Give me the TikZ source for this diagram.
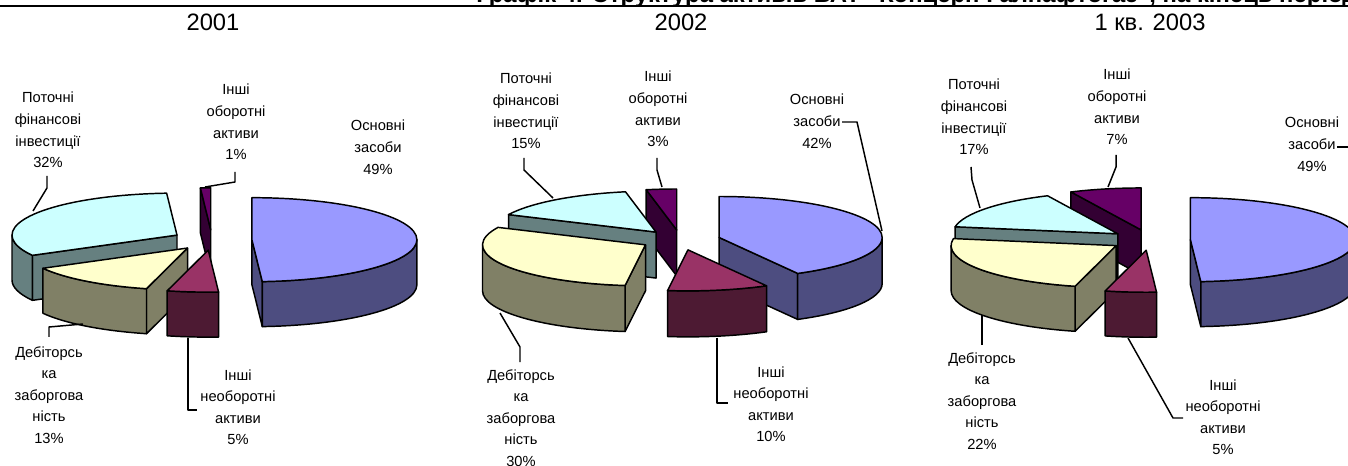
\documentclass[tikz,border=0pt]{standalone}
\usepackage{fontspec}
\setmainfont{Liberation Sans}
\definecolor{blueT}{HTML}{9999FF}
\definecolor{blueS}{HTML}{4D4D80}
\definecolor{magT}{HTML}{993366}
\definecolor{magS}{HTML}{4D1A33}
\definecolor{yelT}{HTML}{FFFFCC}
\definecolor{yelS}{HTML}{808066}
\definecolor{cyaT}{HTML}{CCFFFF}
\definecolor{cyaS}{HTML}{668080}
\definecolor{purT}{HTML}{660066}
\definecolor{purS}{HTML}{330033}
\tikzset{
  pieline/.style={draw=black, line width=1.1pt, line join=round},
  lbl/.style={anchor=north, inner sep=0pt, align=center, font=\fontsize{11}{16.2}\selectfont},
  yr/.style={inner sep=0pt, font=\fontsize{17.8}{20}\selectfont},
  leader/.style={draw=black, line width=1.1pt, line join=round},
}
\newcommand\Fs{\rule{0pt}{8.8pt}}
% #1 cx, #2 cy, #3 explode, #4 a1, #5 a2, #6 top colour, #7 side colour
\newcommand\PieSlice[7]{%
  \pgfmathsetmacro\pMid{(#4+#5)/2}%
  \pgfmathsetmacro\pCx{#1+#3*\PA*cos(\pMid)}%
  \pgfmathsetmacro\pCy{#2+#3*\PB*sin(\pMid)}%
  \pgfmathsetmacro\pXa{\pCx+\PA*cos(#4)}%
  \pgfmathsetmacro\pYa{\pCy+\PB*sin(#4)}%
  \pgfmathsetmacro\pXb{\pCx+\PA*cos(#5)}%
  \pgfmathsetmacro\pYb{\pCy+\PB*sin(#5)}%
  \pgfmathtruncatemacro\pVs{cos(#4)<-0.001}%
  \pgfmathtruncatemacro\pVe{cos(#5)>0.001}%
  \ifnum\pVs=1
    \path[pieline,fill=#7] (\pCx,\pCy) -- (\pXa,\pYa) -- (\pXa,\pYa+\PH) -- (\pCx,\pCy+\PH) -- cycle;
  \fi
  \ifnum\pVe=1
    \path[pieline,fill=#7] (\pCx,\pCy) -- (\pXb,\pYb) -- (\pXb,\pYb+\PH) -- (\pCx,\pCy+\PH) -- cycle;
  \fi
  \pgfmathsetmacro\pSs{max(#4,360)}%
  \pgfmathsetmacro\pSe{min(#5,540)}%
  \pgfmathtruncatemacro\pVo{\pSe>\pSs+0.01}%
  \ifnum\pVo=1
    \pgfmathsetmacro\pXs{\pCx+\PA*cos(\pSs)}%
    \pgfmathsetmacro\pYs{\pCy+\PB*sin(\pSs)}%
    \path[pieline,fill=#7] (\pXs,\pYs) arc[start angle=\pSs,end angle=\pSe,x radius=\PA,y radius=\PB] -- ++(0,\PH) arc[start angle=\pSe,end angle=\pSs,x radius=\PA,y radius=\PB] -- cycle;
  \fi
  \path[pieline,fill=#6] (\pCx,\pCy) -- (\pXa,\pYa) arc[start angle=#4,end angle=#5,x radius=\PA,y radius=\PB] -- cycle;
}
\begin{document}
\begin{tikzpicture}[x=0.75pt,y=-0.75pt]
\useasboundingbox (0,0) rectangle (1348,466);
\clip (0,0) rectangle (1348,466);
\fill[white] (0,0) rectangle (1348,466);
% title
\node[anchor=base west, inner sep=0pt, font=\bfseries\fontsize{17.9}{19}\selectfont] (title) at (476,3) {Графік 4. Структура активів ВАТ "Концерн Галнафтогаз", на кінець періоду};
\draw[line width=1.7pt] (0,6.2) -- (1348,6.2);
% years
\node[yr] (y1) at (213,22) {2001};
\node[yr] (y2) at (681,22) {2002};
\node[yr] (y3) at (1150,22) {1 кв. 2003};
% ---------- chart 1
\def\PA{165}\def\PB{42}\def\PH{45}
\PieSlice{212}{240}{0.242}{626.4}{630}{purT}{purS}
\PieSlice{212}{240}{0.242}{511.2}{626.4}{cyaT}{cyaS}
\PieSlice{212}{240}{0.242}{270}{446.4}{blueT}{blueS}
\PieSlice{212}{240}{0.242}{464.4}{511.2}{yelT}{yelS}
\PieSlice{212}{240}{0.242}{446.4}{464.4}{magT}{magS}
% ---------- chart 2
\def\PA{163}\def\PB{41}\def\PH{46}
\PieSlice{680.5}{240}{0.245}{619.2}{630}{purT}{purS}
\PieSlice{680.5}{240}{0.245}{565.2}{619.2}{cyaT}{cyaS}
\PieSlice{680.5}{240}{0.245}{270}{421.2}{blueT}{blueS}
\PieSlice{680.5}{240}{0.245}{457.2}{565.2}{yelT}{yelS}
\PieSlice{680.5}{240}{0.245}{421.2}{457.2}{magT}{magS}
% ---------- chart 3
\def\PA{165}\def\PB{42}\def\PH{45}
\PieSlice{1150}{240}{0.245}{604.8}{630}{purT}{purS}
\PieSlice{1150}{240}{0.245}{549.6}{604.8}{cyaT}{cyaS}
\PieSlice{1150}{240}{0.245}{270}{446.4}{blueT}{blueS}
\PieSlice{1150}{240}{0.245}{464.4}{549.6}{yelT}{yelS}
\PieSlice{1150}{240}{0.245}{446.4}{464.4}{magT}{magS}
% ---------- labels chart 1
\node[lbl] (l1a) at (48,91) {\Fs Поточні\\фінансові\\інвестиції\\32\%};
\node[lbl] (l1b) at (236,83) {\Fs Інші\\оборотні\\активи\\1\%};
\node[lbl] (l1c) at (378,119) {\Fs Основні\\засоби\\49\%};
\node[lbl] (l1d) at (49,345) {\Fs Дебіторсь\\ка\\заборгова\\ність\\13\%};
\node[lbl] (l1e) at (238,368) {\Fs Інші\\необоротні\\активи\\5\%};
\draw[leader] (47,176) -- (47,188) -- (33,211);
\draw[leader] (235,172) -- (235,182) -- (205,187);
\draw[leader] (49,337) -- (49,327) -- (83,324);
\draw[leader] (188,338) -- (188,410) -- (197,410);
% ---------- labels chart 2
\node[lbl] (l2a) at (526,72) {\Fs Поточні\\фінансові\\інвестиції\\15\%};
\node[lbl] (l2b) at (658,70) {\Fs Інші\\оборотні\\активи\\3\%};
\node[lbl] (l2c) at (817,93) {\Fs Основні\\засоби\\42\%};
\node[lbl] (l2d) at (521,368) {\Fs Дебіторсь\\ка\\заборгова\\ність\\30\%};
\node[lbl] (l2e) at (771,365) {\Fs Інші\\необоротні\\активи\\10\%};
\draw[leader] (842,122) -- (857,122) -- (882,231);
\draw[leader] (524,158) -- (524,170) -- (553,198);
\draw[leader] (657,158) -- (657,170) -- (662,187);
\draw[leader] (520,362) -- (520,347) -- (500,313);
\draw[leader] (717,338) -- (717,403) -- (728,403);
% ---------- labels chart 3
\node[lbl] (l3a) at (974,78) {\Fs Поточні\\фінансові\\інвестиції\\17\%};
\node[lbl] (l3b) at (1117,68) {\Fs Інші\\оборотні\\активи\\7\%};
\node[lbl] (l3c) at (1312,116) {\Fs Основні\\засоби\\49\%};
\node[lbl] (l3d) at (982,351) {\Fs Дебіторсь\\ка\\заборгова\\ність\\22\%};
\node[lbl] (l3e) at (1223,378) {\Fs Інші\\необоротні\\активи\\5\%};
\draw[leader] (971,167) -- (972,180) -- (980,208);
\draw[leader] (1116,155) -- (1116,167) -- (1108,187);
\draw[leader] (1337,147) -- (1356,147);
\draw[leader] (982,345) -- (982,315);
\draw[leader] (1128,338) -- (1173,418) -- (1183,418);
\end{tikzpicture}
\end{document}
